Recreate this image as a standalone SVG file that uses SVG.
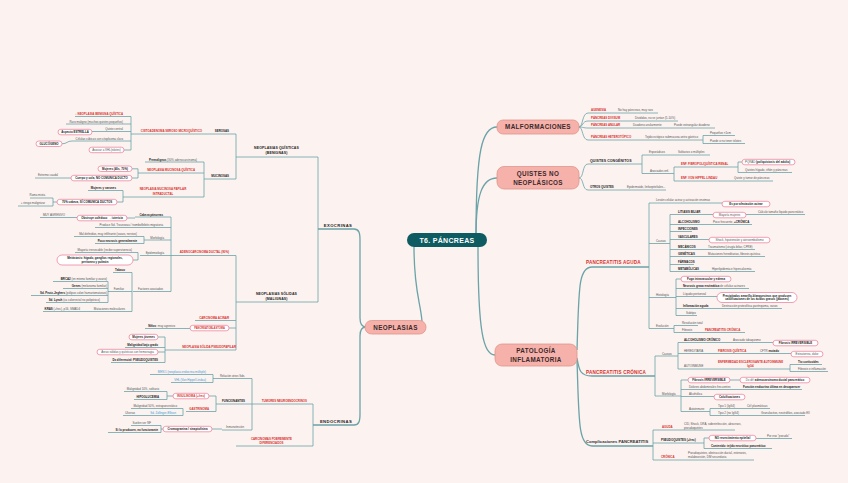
<svg xmlns="http://www.w3.org/2000/svg" width="848" height="483" viewBox="0 0 848 483">
<style>
text{font-family:"Liberation Sans",Arial,sans-serif}
.s{font-size:2.9px;fill:#555}
.sb{font-size:2.9px;fill:#222;font-weight:bold}
.r{font-size:2.9px;fill:#d8302c;font-weight:bold}
.bl{font-size:2.9px;fill:#3b9bd6}
.h{font-size:3.5px;fill:#222;font-weight:bold;letter-spacing:0.1px}
.m{font-size:4.6px;fill:#d8302c;font-weight:bold;letter-spacing:0.2px}
.e{font-size:4.2px;fill:#222;font-weight:bold;letter-spacing:0.4px}
.nt{font-size:6.3px;fill:#3a2a2a;font-weight:bold;letter-spacing:0.35px}
.c{stroke:#6aa3a8;stroke-width:0.8;fill:none}
.cm{stroke:#6aa3a8;stroke-width:1.3;fill:none}
.pk{fill:#fff;stroke:#ee87a1;stroke-width:0.8}
.nd{fill:#f6b1aa;stroke:#df958c;stroke-width:0.8}
.b{font-weight:bold;fill:#222}
</style>
<rect width="848" height="483" fill="#fcf2ef"/>

<g id="connectors">
<path class="cm" d="M414 247 C414 290 420 300 422 321"/>
<path class="cm" d="M476 236 C476 150 482 127 497 127"/>
<path class="cm" d="M476 236 C476 195 482 178 497 178"/>
<path class="cm" d="M478 247 C478 330 483 355 495 355"/>
<path class="cm" d="M318 229 H354 C359 229 360 233 360 240 V318 C360 324 362 327 366 327"/>
<path class="cm" d="M313 425 H354 C359 425 360 421 360 414 V336 C360 330 362 327 366 327"/>
<path class="cm" d="M577 350 C579 290 578 267 592 267 H649"/>
<path class="cm" d="M577 358 C579 370 580 376 592 376 H655"/>
<path class="cm" d="M577 360 C579 420 578 446 592 446 H653"/>
<path class="c" d="M318 157 V302 M236 157 H318 M236 302 H318"/>
<path class="c" d="M236 134 V179 M131 134 H236 M131 116.5 V150 M75 116.5 H131 M66 124 H131 M92 131.5 H131 M72 141 H131 M62 143.8 C67 143.8 67 141 72 141 M124 150 H131"/>
<path class="c" d="M204 179 H236 M204 162 V197 M145 162 H204 M138 173 H204 M138 168.8 V178 M132 168.8 H138 M132 178 H138 M35 178 H71"/>
<path class="c" d="M123 197 H204 M123 190.5 V202 M88 190.5 H123 M117 202 H123 M53 198 V206 M30 198 H53 M18 206 H53 M53 202 H57"/>
<path class="c" d="M140 255.5 H236 M236 255.5 V350 M171 217 V291.5 M135 217 H171 M127 218 H135 M40 217.5 H77 M95 227.5 H171 M144 240 H171 M144 236.5 V243.5 M74 236.5 H144 M95 243.5 H144 M138 252.5 V260 M75 252.5 H138 M133 260 H138"/>
<path class="c" d="M133 291.5 H171 M132 272.5 V311.5 M113 272.5 H132 M108 291.5 H132 M108 281.5 V302.5 M53 281.5 H108 M63 288.5 H108 M31 295.5 H108 M46 302.5 H108 M43 311.5 H132"/>
<path class="c" d="M195 320.5 H236 M229 328 H236 M145 328.5 H190 M165 350 H236 M165 337 V362.5 M158 337 H165 M125 347.5 H165 M158 352 H165 M111 362.5 H165"/>
<path class="c" d="M252 404 H313 M313 404 V446 M236 446 H313 M252 378.5 V430 M213 378.5 H252 M213 374.5 V382.5 M150 374.5 H213 M171 382.5 H213"/>
<path class="c" d="M216 404 H252 M216 396 V411.5 M209 396 H216 M167 391.5 V399.5 M124 391.5 H167 M134 399.5 H167 M167 396 H173 M186 411.5 H216 M183 408.5 V415.5 M131 408.5 H183 M123 415.5 H183 M222 430 H252 M212 429 H222 M161 425.5 V432.5 M131 425.5 H161 M108 432.5 H161 M161 429 H163"/>
<path class="c" d="M579 127 C583 127 582 113 588 113 H658 M579 127 C583 127 582 121 588 121 H678 M579 127 C583 127 583 128 588 128 H715 M579 127 C583 127 582 140 588 140 H703 M703 135.5 V143.5 M703 135.5 H735 M703 143.5 H745"/>
<path class="c" d="M579 178 C584 178 582 164 588 164 H642 M579 178 C584 178 582 190 588 190 H666 M642 155 V173.5 M642 155 H710 M642 173.5 H674 M674 167 V181 M674 167 H738 M738 162 V172.5 M738 162 H742 M738 172.5 H792 M674 181 H773"/>
<path class="c" d="M649 203 V328.5 M649 203 H722 M649 243.5 H670 M670 214.5 V271.5 M670 214.5 H713 M746 214.5 H805 M670 224.5 H752 M670 231.5 H692 M670 239.5 H709 M670 249.5 H755 M670 256.5 H765 M670 264.5 H694 M670 271.5 H755"/>
<path class="c" d="M649 297.5 H676 M676 279 V315.5 M676 279 H681 M676 288.5 H749 M676 296.5 H717 M676 308.5 H782 M676 315.5 H697 M649 328.5 H674 M674 325.5 V332.5 M674 325.5 H698 M674 332.5 H745"/>
<path class="c" d="M655 356 V396 M655 356 H678 M678 342.5 V369 M678 342.5 H773 M678 353.5 H791 M678 369 H790 M790 364.5 V371.5 M790 364.5 H822 M790 371.5 H828"/>
<path class="c" d="M655 396 H681 M681 380 V411.5 M681 380 H688 M730 380 H740 M681 389.5 H802 M681 396.5 H714 M681 411.5 H710 M710 408.5 V415.5 M710 408.5 H770 M710 415.5 H805"/>
<path class="c" d="M653 430 V460 M653 430 H735 M653 443 H704 M704 438 V448.5 M704 438 H709 M756 438.5 H792 M704 448.5 H772 M653 460 H754"/>
</g>

<g id="root"><rect x="407" y="233" width="80" height="14" rx="7" fill="#0e5b62"/><text x="447" y="242.6" text-anchor="middle" style="font-size:7px;fill:#fff;font-weight:bold;letter-spacing:0.3px">T6. PÁNCREAS</text></g>
<g id="malformaciones"><rect class="nd" x="497" y="120" width="82" height="14" rx="6"/><text class="nt" x="538" y="129.4" text-anchor="middle">MALFORMACIONES</text></g>
<g id="quistes"><rect class="nd" x="497" y="166.5" width="82" height="22.5" rx="7"/><text class="nt" x="538" y="175.8" text-anchor="middle">QUISTES NO</text><text class="nt" x="538" y="184.6" text-anchor="middle">NEOPLÁSICOS</text></g>
<g id="patologia"><rect class="nd" x="495" y="344" width="82" height="22" rx="7"/><text class="nt" x="536" y="353.2" text-anchor="middle">PATOLOGÍA</text><text class="nt" x="536" y="362" text-anchor="middle">INFLAMATORIA</text></g>
<g id="neoplasias"><rect class="nd" x="365" y="320.5" width="61" height="13.5" rx="6.5"/><text class="nt" x="395.5" y="329.6" text-anchor="middle">NEOPLASIAS</text></g>

<g id="exocrinas"><text class="e" x="338" y="226.5" text-anchor="middle">EXOCRINAS</text></g>
<g id="endocrinas"><text class="e" x="336" y="422.5" text-anchor="middle">ENDOCRINAS</text></g>
<g id="n-quisticas"><text class="h" x="276.5" y="149.3" text-anchor="middle">NEOPLASIAS QUÍSTICAS</text><text class="h" x="276.5" y="153.8" text-anchor="middle">(BENIGNAS)</text></g>
<g id="n-solidas"><text class="h" x="276.5" y="295.3" text-anchor="middle">NEOPLASIAS SÓLIDAS</text><text class="h" x="276.5" y="299.8" text-anchor="middle">(MALIGNAS)</text></g>

<g id="serosas"><text class="sb" x="229" y="132" text-anchor="end">SEROSAS</text></g>
<g id="cistoadenoma"><text class="r" x="202" y="132" text-anchor="end">CISTOADENOMA SEROSO MICROQUÍSTICO</text></g>
<g id="s1"><text class="r" x="123" y="115" text-anchor="end">↓ NEOPLASIA BENIGNA QUÍSTICA</text></g>
<g id="s2"><text class="s" x="123" y="123" text-anchor="end">Raro maligno (muchos quistes pequeños)</text></g>
<g id="s3"><text class="s" x="123" y="130" text-anchor="end">Quiste central</text></g>
<g id="s4"><rect class="pk" x="58" y="129.3" width="34" height="5.5" rx="2.75"/><text class="sb" x="75" y="133.1" text-anchor="middle">Aspecto ESTRELLA</text></g>
<g id="s5"><text class="s" x="123" y="140" text-anchor="end">Células cúbicas con citoplasma claro</text></g>
<g id="s6"><rect class="pk" x="36" y="141" width="26" height="5.5" rx="2.75"/><text class="sb" x="49" y="144.8" text-anchor="middle">GLUCÓGENO</text></g>
<g id="s7"><rect class="pk" x="89" y="147.2" width="35" height="5.5" rx="2.75"/><text class="s" x="106.5" y="151" text-anchor="middle">Asociar a VHL(islotes)</text></g>

<g id="mucinosas"><text class="sb" x="229" y="177" text-anchor="end">MUCINOSAS</text></g>
<g id="m1"><text class="s" x="197" y="161" text-anchor="end"><tspan class="b">Premalignos</tspan> (30% adenocarcinoma)</text></g>
<g id="m2"><text class="r" x="195" y="171" text-anchor="end">NEOPLASIA MUCINOSA QUÍSTICA</text></g>
<g id="m3"><rect class="pk" x="98" y="166" width="34" height="5.5" rx="2.75"/><text class="sb" x="115" y="169.8" text-anchor="middle">Mujeres (40s, 70%)</text></g>
<g id="m4"><rect class="pk" x="71" y="175.3" width="61" height="5.5" rx="2.75"/><text class="sb" x="101.5" y="179.1" text-anchor="middle">Cuerpo y cola, NO COMUNICA DUCTO</text></g>
<g id="m5"><text class="s" x="58" y="176" text-anchor="end">Extremo caudal</text></g>
<g id="m6"><text class="r" x="163" y="190" text-anchor="middle">NEOPLASIA MUCINOSA PAPILAR</text><text class="r" x="163" y="194.5" text-anchor="middle">INTRADUCTAL</text></g>
<g id="m7"><text class="sb" x="116" y="189" text-anchor="end">Mujeres y varones</text></g>
<g id="m8"><rect class="pk" x="57" y="199.3" width="60" height="5.5" rx="2.75"/><text class="sb" x="87" y="203.1" text-anchor="middle">70% cabeza, SÍ COMUNICA DUCTOS</text></g>
<g id="m9"><text class="s" x="45" y="196" text-anchor="end">Rama mixta</text></g>
<g id="m10"><text class="s" x="45" y="204" text-anchor="end">+ riesgo malignizar</text></g>

<g id="adeno"><text class="r" x="229" y="253" text-anchor="end">ADENOCARCINOMA DUCTAL (90%)</text></g>
<g id="a1"><text class="sb" x="163" y="216" text-anchor="end">Cabeza páncreas</text></g>
<g id="a2"><rect class="pk" x="77" y="215.3" width="50" height="5.5" rx="2.75"/><text class="sb" x="102" y="219.1" text-anchor="middle">Obstruye colédoco → ictericia</text></g>
<g id="a3"><text class="s" x="65" y="216" text-anchor="end">MUY AGRESIVO</text></g>
<g id="a4"><text class="s" x="163" y="226" text-anchor="end">Produce Sd. Trousseau / tromboflebitis migratoria</text></g>
<g id="a5"><text class="s" x="164" y="238.5" text-anchor="end">Morfología</text></g>
<g id="a6"><text class="s" x="137" y="235" text-anchor="end">Mal definidos, muy infiltrante (vasos, nervios)</text></g>
<g id="a7"><text class="sb" x="137" y="242" text-anchor="end">Poco necrosis generalmente</text></g>
<g id="a8"><text class="s" x="164" y="254" text-anchor="end">Epidemiología</text></g>
<g id="a9"><text class="s" x="132" y="251" text-anchor="end">Mayoría irresecable (recibe supervivencia)</text></g>
<g id="a10"><rect class="pk" x="57" y="255" width="76" height="10" rx="5"/><text class="sb" x="95" y="259.2" text-anchor="middle">Metástasis: hígado, ganglios regionales,</text><text class="sb" x="95" y="263" text-anchor="middle">peritoneo y pulmón</text></g>
<g id="a11"><text class="s" x="163" y="290" text-anchor="end">Factores asociados</text></g>
<g id="a12"><text class="sb" x="125" y="271" text-anchor="end">Tabaco</text></g>
<g id="a13"><text class="s" x="124" y="290" text-anchor="end">Familiar</text></g>
<g id="a14"><text class="s" x="107" y="280" text-anchor="end"><tspan class="b">BRCA2</tspan> (en mismo familiar y ovario)</text></g>
<g id="a15"><text class="s" x="107" y="287" text-anchor="end"><tspan class="b">Genes</tspan> (melanoma familiar)</text></g>
<g id="a16"><text class="s" x="107" y="294" text-anchor="end"><tspan class="b">Sd. Peutz-Jeghers</tspan> (pólipos colon hamartomatosos)</text></g>
<g id="a17"><text class="s" x="100" y="301" text-anchor="end"><tspan class="b">Sd. Lynch</tspan> (ca colorrectal no polipósico)</text></g>
<g id="a18"><text class="s" x="125" y="310" text-anchor="end">Mutaciones moleculares</text></g>
<g id="a19"><text class="s" x="80" y="310" text-anchor="end"><tspan class="b">KRAS</tspan> (+frec), p16, SMAD4</text></g>
<g id="acinar"><text class="r" x="229" y="319" text-anchor="end">CARCINOMA ACINAR</text></g>
<g id="pblast"><rect class="pk" x="190" y="325.3" width="39" height="5.5" rx="2.75"/><text class="r" x="209.5" y="329" text-anchor="middle" style="font-size:2.6px">PANCREATOBLASTOMA</text></g>
<g id="pb1"><text class="s" x="175" y="327" text-anchor="end"><tspan class="b">Niños</tspan>: muy agresivo</text></g>
<g id="pseudo"><text class="r" x="236" y="348" text-anchor="end">NEOPLASIA SÓLIDA PSEUDOPAPILAR</text></g>
<g id="p1"><rect class="pk" x="129" y="334.3" width="29" height="5.5" rx="2.75"/><text class="sb" x="143.5" y="338.1" text-anchor="middle">Mujeres jóvenes</text></g>
<g id="p2"><text class="sb" x="158" y="346" text-anchor="end">Malignidad bajo grado</text></g>
<g id="p3"><rect class="pk" x="97" y="349.3" width="61" height="5.5" rx="2.75"/><text class="s" x="127.5" y="353.1" text-anchor="middle">Áreas sólidas y quísticas con hemorragia</text></g>
<g id="p4"><text class="sb" x="158" y="361" text-anchor="end">Dx diferencial: PSEUDOQUISTES</text></g>

<g id="tne"><text class="r" x="307" y="402" text-anchor="end">TUMORES NEUROENDOCRINOS</text></g>
<g id="t1"><text class="s" x="245" y="377" text-anchor="end">Relación otros Sds.</text></g>
<g id="t2"><text class="bl" x="206" y="373" text-anchor="end">MEN 1 (neoplasia endocrina múltiple)</text></g>
<g id="t3"><text class="bl" x="206" y="381" text-anchor="end">VHL (Von Hippel Lindau)</text></g>
<g id="t4"><text class="sb" x="245" y="402" text-anchor="end">FUNCIONANTES</text></g>
<g id="t5"><rect class="pk" x="173" y="393.3" width="36" height="5.5" rx="2.75"/><text class="r" x="191" y="397.1" text-anchor="middle">INSULINOMA (+frec)</text></g>
<g id="t6"><text class="s" x="159" y="390" text-anchor="end">Malignidad 10%, solitario</text></g>
<g id="t7"><text class="sb" x="159" y="398" text-anchor="end">HIPOGLUCEMIA</text></g>
<g id="t8"><text class="r" x="209" y="410" text-anchor="end">GASTRINOMA</text></g>
<g id="t9"><text class="s" x="177" y="407" text-anchor="end">Malignidad 50%, extrapancreático</text></g>
<g id="t10"><text class="bl" x="176" y="414" text-anchor="end">Sd. Zollinger-Ellison</text></g>
<g id="t11"><text class="s" x="135" y="414" text-anchor="end">Úlceras</text></g>
<g id="t12"><text class="s" x="244" y="428" text-anchor="end">Inmunotinción</text></g>
<g id="t13"><rect class="pk" x="163" y="426.3" width="49" height="5.5" rx="2.75"/><text class="sb" x="187.5" y="430.1" text-anchor="middle">Cromogranina / sinaptofisina</text></g>
<g id="t14"><text class="s" x="151" y="424" text-anchor="end">Suelen ser NF</text></g>
<g id="t15"><text class="sb" x="158" y="431" text-anchor="end">Si lo producen, no funcionante</text></g>
<g id="cpd"><text class="r" x="271.5" y="440" text-anchor="middle">CARCINOMAS POBREMENTE</text><text class="r" x="271.5" y="444.3" text-anchor="middle">DIFERENCIADOS</text></g>

<g id="f1"><text class="r" x="591" y="111">AGENESIA</text></g>
<g id="f2"><text class="s" x="618" y="111">No hay páncreas, muy raro</text></g>
<g id="f3"><text class="r" x="591" y="119">PÁNCREAS DIVISUM</text></g>
<g id="f4"><text class="s" x="635" y="119">Divididos, no se juntan (5-10%)</text></g>
<g id="f5"><text class="r" x="591" y="126">PÁNCREAS ANULAR</text></g>
<g id="f6"><text class="s" x="633" y="126">Duodeno anularmente</text></g>
<g id="f7"><text class="s" x="674" y="126">Puede estrangular duodeno</text></g>
<g id="f8"><text class="r" x="591" y="138">PÁNCREAS HETEROTÓPICO</text></g>
<g id="f9"><text class="s" x="645" y="138">Tejido ectópico submucosa antro gástrico</text></g>
<g id="f10"><text class="s" x="710" y="134">Pequeños &lt;1cm</text></g>
<g id="f11"><text class="s" x="710" y="142">Puede o no tener islotes</text></g>

<g id="q1"><text class="h" x="590" y="162.3">QUISTES CONGÉNITOS</text></g>
<g id="q2"><text class="sb" x="590" y="188">OTROS QUISTES</text></g>
<g id="q3"><text class="s" x="627" y="188">Epidermoide, linfoepiteliales...</text></g>
<g id="q4"><text class="s" x="649" y="153">Esporádicos</text></g>
<g id="q5"><text class="s" x="678" y="153">Solitarios o múltiples</text></g>
<g id="q6"><text class="s" x="650" y="172">Asociados enf.</text></g>
<g id="q7"><text class="r" x="681" y="165">ENF. FIBROPOLIQUÍSTICA RENAL</text></g>
<g id="q8"><rect class="pk" x="742" y="159.3" width="53" height="5.5" rx="2.75"/><text class="s" x="745" y="163.1">PQRAD <tspan class="b">(poliquistosis del adulto)</tspan></text></g>
<g id="q9"><text class="s" x="745" y="171">Quistes hígado, riñón y páncreas</text></g>
<g id="q10"><text class="r" x="681" y="179">ENF. VON HIPPEL LINDAU</text></g>
<g id="q11"><text class="s" x="734" y="179">Quiste y tumor de páncreas</text></g>

<g id="pa"><text class="m" x="586" y="263.6">PANCREATITIS AGUDA</text></g>
<g id="pa1"><text class="s" x="656" y="201">Lesión celular acinar y activación enzimas</text></g>
<g id="pa2"><rect class="pk" x="722" y="201.3" width="48" height="5.5" rx="2.75"/><text class="sb" x="746" y="205.1" text-anchor="middle">Es por afectación acinar</text></g>
<g id="pa3"><text class="s" x="656" y="242">Causas</text></g>
<g id="pa4"><text class="sb" x="678" y="213">LITIASIS BILIAR</text></g>
<g id="pa5"><rect class="pk" x="713" y="212.3" width="33" height="5.5" rx="2.75"/><text class="s" x="729.5" y="216.1" text-anchor="middle">Mayoría mujeres</text></g>
<g id="pa6"><text class="s" x="758" y="213">Cálculo tamaño líquido pancreático</text></g>
<g id="pa7"><text class="sb" x="678" y="223">ALCOHOLISMO</text></g>
<g id="pa8"><text class="s" x="713" y="223">Poco frecuente, <tspan class="b">+CRÓNICA</tspan></text></g>
<g id="pa9"><text class="sb" x="678" y="230">INFECCIONES</text></g>
<g id="pa10"><text class="sb" x="678" y="238">VASCULARES</text></g>
<g id="pa11"><rect class="pk" x="709" y="237.3" width="61" height="5.5" rx="2.75"/><text class="s" x="739.5" y="241.1" text-anchor="middle">Shock, hipotensión y ateroembolismo</text></g>
<g id="pa12"><text class="sb" x="678" y="248">MECÁNICOS</text></g>
<g id="pa13"><text class="s" x="708" y="248">Traumatismo (cirugía biliar, CPRE)</text></g>
<g id="pa14"><text class="sb" x="678" y="255">GENÉTICAS</text></g>
<g id="pa15"><text class="s" x="708" y="255">Mutaciones hereditarias, fibrosis quística</text></g>
<g id="pa16"><text class="sb" x="678" y="263">FÁRMACOS</text></g>
<g id="pa17"><text class="sb" x="678" y="270">METABÓLICAS</text></g>
<g id="pa18"><text class="s" x="712" y="270">Hiperlipidemia e hipercalcemia</text></g>
<g id="pa19"><text class="s" x="656" y="296">Histología</text></g>
<g id="pa20"><rect class="pk" x="681" y="276.3" width="50" height="5.5" rx="2.75"/><text class="sb" x="706" y="280.1" text-anchor="middle">Fuga intravascular y edema</text></g>
<g id="pa21"><text class="s" x="683" y="287"><tspan class="b">Necrosis grasa enzimática</tspan> de células acinares</text></g>
<g id="pa22"><text class="s" x="683" y="295">Líquido peritoneal</text></g>
<g id="pa23"><rect class="pk" x="717" y="292.5" width="80" height="10" rx="5"/><text class="sb" x="757" y="296.5" text-anchor="middle">Precipitados amarillo-blanquecinos que producen</text><text class="sb" x="757" y="300.3" text-anchor="middle">calcificaciones de los ácidos grasos (jabones)</text></g>
<g id="pa24"><text class="sb" x="683" y="307">Inflamación aguda</text></g>
<g id="pa25"><text class="s" x="722" y="307">Destrucción proteolítica parénquima, vasos</text></g>
<g id="pa26"><text class="s" x="686" y="314">Subtipo</text></g>
<g id="pa27"><text class="s" x="656" y="327">Evolución</text></g>
<g id="pa28"><text class="s" x="682" y="324">Resolución total</text></g>
<g id="pa29"><text class="s" x="682" y="331">Fibrosis</text></g>
<g id="pa30"><text class="r" x="705" y="331">PANCREATITIS CRÓNICA</text></g>

<g id="pc"><text class="m" x="586" y="373.6">PANCREATITIS CRÓNICA</text></g>
<g id="pc1"><text class="s" x="662" y="354.5">Causas</text></g>
<g id="pc2"><text class="sb" x="684" y="341">ALCOHOLISMO CRÓNICO</text></g>
<g id="pc3"><text class="s" x="733" y="341">Asociado tabaquismo</text></g>
<g id="pc4"><rect class="pk" x="773" y="340.3" width="45" height="5.5" rx="2.75"/><text class="sb" x="795.5" y="344.1" text-anchor="middle">Fibrosis IRREVERSIBLE</text></g>
<g id="pc5"><text class="s" x="684" y="352">HEREDITARIA</text></g>
<g id="pc6"><text class="r" x="718" y="352">FIBROSIS QUÍSTICA</text></g>
<g id="pc7"><text class="s" x="760" y="352">CFTR <tspan class="b">mutado</tspan></text></g>
<g id="pc8"><rect class="pk" x="791" y="351.3" width="32" height="5.5" rx="2.75"/><text class="s" x="807" y="355.1" text-anchor="middle">Esteatorrea, dolor</text></g>
<g id="pc9"><text class="s" x="684" y="367">AUTOINMUNE</text></g>
<g id="pc10"><text class="r" x="750.5" y="363" text-anchor="middle">ENFERMEDAD ESCLEROSANTE AUTOINMUNE</text><text class="r" x="750.5" y="367.2" text-anchor="middle">IgG4</text></g>
<g id="pc11"><text class="sb" x="798" y="363">Tto corticoides</text></g>
<g id="pc12"><text class="s" x="798" y="370">Fibrosis e inflamación</text></g>
<g id="pc13"><text class="s" x="662" y="394.5">Morfología</text></g>
<g id="pc14"><rect class="pk" x="688" y="377.3" width="42" height="5.5" rx="2.75"/><text class="sb" x="709" y="381.1" text-anchor="middle">Fibrosis IRREVERSIBLE</text></g>
<g id="pc15"><rect class="pk" x="740" y="377.3" width="70" height="5.5" rx="2.75"/><text class="s" x="775" y="381.1" text-anchor="middle">Dx dif: <tspan class="b">adenocarcinoma ductal pancreático</tspan></text></g>
<g id="pc16"><text class="s" x="689" y="388">Dolores abdominales frecuentes</text></g>
<g id="pc17"><text class="sb" x="743" y="388">Función endocrina última en desaparecer</text></g>
<g id="pc18"><text class="s" x="689" y="395">Alcohólica</text></g>
<g id="pc19"><rect class="pk" x="714" y="394.3" width="31" height="5.5" rx="2.75"/><text class="sb" x="729.5" y="398.1" text-anchor="middle">Calcificaciones</text></g>
<g id="pc20"><text class="s" x="689" y="410">Autoinmune</text></g>
<g id="pc21"><text class="s" x="718" y="407">Tipo 1 (IgG4)</text></g>
<g id="pc22"><text class="s" x="747" y="407">Cél plasmáticas</text></g>
<g id="pc23"><text class="s" x="718" y="414">Tipo 2 (no IgG4)</text></g>
<g id="pc24"><text class="s" x="761" y="414">Granulocitos, neutrófilos, asociado EII</text></g>

<g id="co"><text x="586" y="443.4" style="font-size:4.1px;fill:#333;font-weight:bold">Complicaciones PANCREATITIS</text></g>
<g id="co1"><text class="r" x="662" y="428">AGUDA</text></g>
<g id="co2"><text class="s" x="684" y="425">CID, Shock, DRA, sobreinfección, abscesos,</text><text class="s" x="684" y="429">pseudoquistes</text></g>
<g id="co3"><text class="sb" x="661" y="441">PSEUDOQUISTES (+frec)</text></g>
<g id="co4"><rect class="pk" x="709" y="435.3" width="47" height="5.5" rx="2.75"/><text class="sb" x="732.5" y="439.1" text-anchor="middle">NO revestimiento epitelial</text></g>
<g id="co5"><text class="s" x="767" y="437">Por eso "pseudo"</text></g>
<g id="co6"><text class="sb" x="711" y="447">Contenido: tejido necrótico pancreático</text></g>
<g id="co7"><text class="r" x="661" y="458">CRÓNICA</text></g>
<g id="co8"><text class="s" x="688" y="454">Pseudoquistes, obstrucción ductal, estenosis,</text><text class="s" x="688" y="458">malabsorción, DM secundaria</text></g>
</svg>
